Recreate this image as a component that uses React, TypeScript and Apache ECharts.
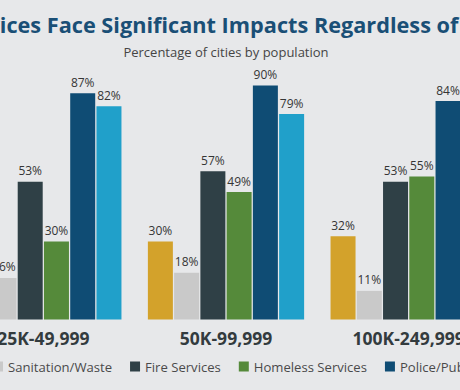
import React, { useEffect, useRef } from "react";
import * as echarts from "echarts";

const categories = ["25K-49,999", "50K-99,999", "100K-249,999"];
const seriesNames = [
  "Parks & Recreation",
  "Sanitation/Waste",
  "Fire Services",
  "Homeless Services",
  "Police/Public Safety",
  "Public Works",
];
const parks = [25, 30, 32];
const sanitation = [16, 18, 11];
const fire = [53, 57, 53];
const homeless = [30, 49, 55];
const police = [87, 90, 84];
const publicWorks = [82, 79, 76];
const colors = ["#d3a22b", "#c9c9c9", "#2f4046", "#558a3a", "#0f4c74", "#20a0ca"];

const titleText = "City Services Face Significant Impacts Regardless of City Size";
const subtitleText = "Percentage of cities by population";

const FONT = "'Open Sans', 'Noto Sans', sans-serif";
const BG = "#e7e8ea";
const INNER_W = 800;
const OFFSET = 174;
const LEGEND_LEFT = OFFSET - 12;

export default function App() {
  const ref = useRef<HTMLDivElement>(null);
  useEffect(() => {
    document.body.style.margin = "0";
    if (!ref.current) return;
    const chart = echarts.init(ref.current, undefined, { renderer: "svg" });
    const values = [parks, sanitation, fire, homeless, police, publicWorks];
    const legendText = { fontFamily: FONT, fontSize: 13.1, color: "#4a4a4a" };
    chart.setOption({
      animation: false,
      backgroundColor: BG,
      title: [
        {
          text: titleText,
          left: 74,
          top: 8,
          textStyle: { fontFamily: FONT, fontSize: 21.7, fontWeight: "bold", color: "#1a4f76" },
        },
        {
          text: subtitleText,
          left: "center",
          top: 40,
          textStyle: { fontFamily: FONT, fontSize: 13, fontWeight: "normal", color: "#454545" },
        },
      ],
      legend: [
        {
          data: [seriesNames[0]],
          right: INNER_W - (LEGEND_LEFT - 18),
          top: 355,
          icon: "rect",
          itemWidth: 10,
          itemHeight: 10,
          itemGap: 18,
          textStyle: legendText,
        },
        {
          data: seriesNames.slice(1),
          left: LEGEND_LEFT,
          top: 355,
          icon: "rect",
          itemWidth: 10,
          itemHeight: 10,
          itemGap: 18,
          textStyle: legendText,
        },
      ],
      grid: { left: 126, width: 548, top: 59.5, bottom: 70.5 },
      xAxis: {
        type: "category",
        data: categories,
        axisLine: { show: false },
        axisTick: { show: false },
        axisLabel: {
          fontFamily: FONT,
          fontSize: 17.5,
          fontWeight: "bold",
          color: "#333b3e",
          margin: 9,
        },
      },
      yAxis: { type: "value", min: 0, max: 100, show: false },
      series: seriesNames.map((name, i) => ({
        name,
        type: "bar",
        data: values[i],
        barWidth: 25,
        barGap: "5%",
        itemStyle: { color: colors[i] },
        label: {
          show: true,
          position: "top",
          distance: 5,
          formatter: "{c}%",
          fontFamily: FONT,
          fontSize: 12,
          color: "#353535",
        },
      })),
    });
    return () => chart.dispose();
  }, []);
  return (
    <div
      style={{
        position: "fixed",
        left: 0,
        top: 0,
        width: 460,
        height: 390,
        overflow: "hidden",
        background: BG,
      }}
    >
      <div
        ref={ref}
        style={{ position: "absolute", left: -OFFSET, top: 0, width: INNER_W, height: 390 }}
      />
    </div>
  );
}
